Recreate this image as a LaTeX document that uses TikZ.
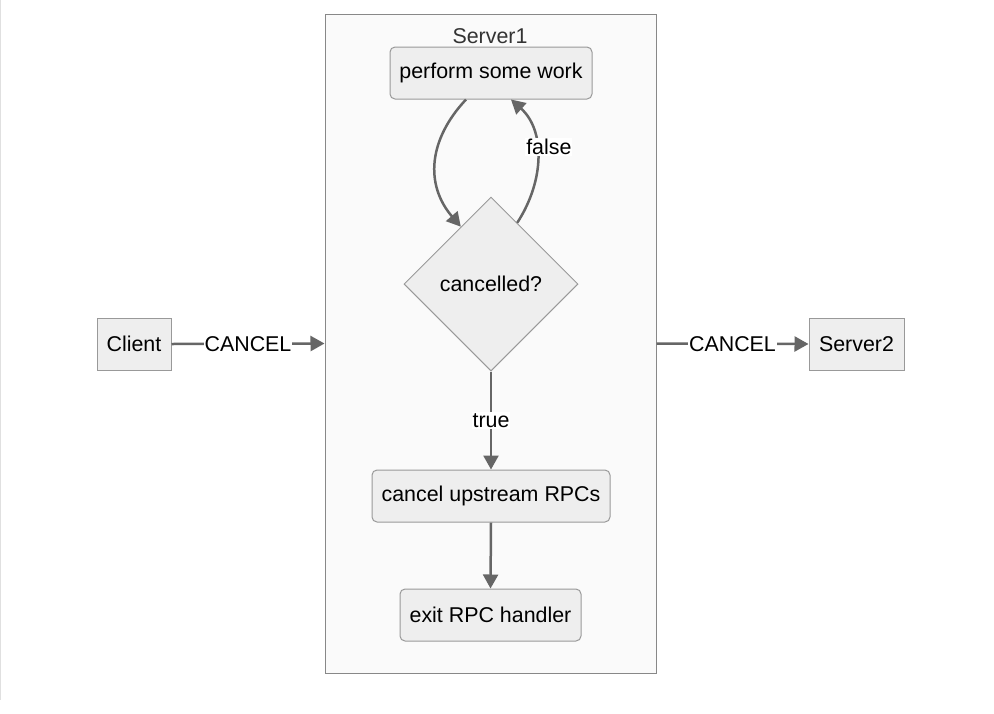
\documentclass[tikz,border=0pt]{standalone}
\usepackage{fontspec}
\setmainfont{Liberation Sans}
\usetikzlibrary{shapes.geometric,arrows.meta,calc}
\definecolor{nodefill}{HTML}{EEEEEE}
\definecolor{nodeline}{HTML}{999999}
\definecolor{edgecol}{HTML}{666666}
\definecolor{clusterfill}{HTML}{FAFAFA}
\definecolor{clusterline}{HTML}{888888}
\definecolor{titlecol}{HTML}{333333}
\begin{document}
\begin{tikzpicture}[x=1pt,y=-1pt,
  every node/.style={font=\fontsize{21.4}{25}\selectfont},
  box/.style={draw=nodeline,fill=nodefill,line width=1pt,inner sep=0pt},
  rbox/.style={box,rounded corners=5pt},
  dia/.style={box,diamond,aspect=1,minimum width=174pt,minimum height=174pt},
  edge/.style={draw=edgecol,line width=2.5pt,-{Triangle[length=14pt,width=15pt]}},
  elabel/.style={fill=white,inner sep=1pt,text=black}
]
\useasboundingbox (0,0) rectangle (994,713);
\fill[white] (0,0) rectangle (994,713);
\draw[color=black!12,line width=1pt] (0.5,0) -- (0.5,700);
% cluster
\node[draw=clusterline,fill=clusterfill,line width=1pt,minimum width=331pt,minimum height=659pt,inner sep=0pt] (server1) at (490.5,343.5) {};
\node[text=titlecol] (title) at (490,36) {Server1};
% nodes
\node[rbox,minimum width=202pt,minimum height=52pt] (work) at (491,73) {perform some work};
\node[dia] (cond) at (491,284) {cancelled?};
\node[rbox,minimum width=238pt,minimum height=52pt] (cancel) at (491,496) {cancel upstream RPCs};
\node[rbox,minimum width=181pt,minimum height=52pt] (exit) at (490.5,615) {exit RPC handler};
\node[box,minimum width=74pt,minimum height=52pt] (client) at (134,344) {Client};
\node[box,minimum width=95pt,minimum height=52pt] (server2) at (856.5,344) {Server2};
% edges
\draw[edge] (client.east) -- node[elabel]{CANCEL} (server1.west);
\draw[edge] (server1.east) -- node[elabel]{CANCEL} (server2.west);
\coordinate (w1) at ($(work.south)+(-25,0)$);
\coordinate (d1) at ($(cond.north)!0.345!(cond.west)$);
\coordinate (d2) at ($(cond.north)!0.3!(cond.east)$);
\coordinate (w2) at ($(work.south)+(20,0)$);
\draw[edge] (w1) .. controls (428,140) and (425,185) .. (d1);
\draw[edge] (d2) .. controls (545,180) and (545,130) .. node[pos=0.6,xshift=13pt,yshift=-3pt,elabel]{false} (w2);
\draw[edge] (cond.south) -- node[elabel,pos=0.5]{true} (cancel.north);
\draw[edge] (cancel.south) -- (exit.north);
\end{tikzpicture}
\end{document}
